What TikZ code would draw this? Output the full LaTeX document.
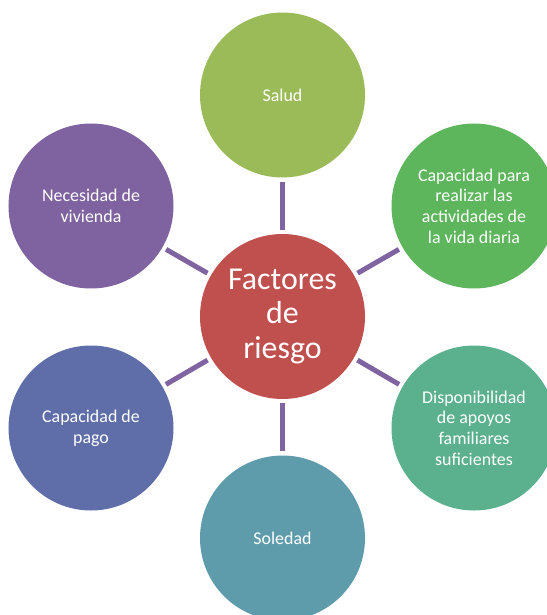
\documentclass[tikz,border=0pt]{standalone}
\usepackage{fontspec}
\setmainfont{Carlito}
\usetikzlibrary{positioning}
\definecolor{brick}{HTML}{C0504D}
\definecolor{pear}{HTML}{9BBB59}
\definecolor{leaf}{HTML}{5DB55C}
\definecolor{jade}{HTML}{5BB08E}
\definecolor{steel}{HTML}{5E9CAC}
\definecolor{indigo}{HTML}{5F6EA8}
\definecolor{plum}{HTML}{7F63A1}
\definecolor{spoke}{HTML}{8064A2}
\tikzset{
  factor/.style={circle,minimum size=165bp,inner sep=0pt,text=white,
                 align=center,font=\fontsize{18}{20.7}\selectfont},
  core/.style={circle,minimum size=165bp,inner sep=0pt,text=white,fill=brick,
               align=center,font=\fontsize{32}{34.5}\selectfont},
  link/.style={draw=spoke,line width=5bp,shorten >=4bp,shorten <=4bp}
}
\begin{document}
\begin{tikzpicture}[x=1bp,y=-1bp]
\useasboundingbox (0,0) rectangle (547,615);
\node[core] (risk) at (282.5,316.5) {Factores\\de\\riesgo};
\node[factor,fill=pear] (salud) at (282.5,95) {Salud};
\node[factor,fill=leaf] (diaria) at (474,206) {Capacidad para\\realizar las\\actividades de\\la vida diaria};
\node[factor,fill=jade] (apoyos) at (474,428) {Disponibilidad\\de apoyos\\familiares\\suficientes};
\node[factor,fill=steel] (soledad) at (282.5,538) {Soledad};
\node[factor,fill=indigo] (pago) at (91,428) {Capacidad de\\pago};
\node[factor,fill=plum] (vivienda) at (91,206) {Necesidad de\\vivienda};
\draw[link] (risk)--(salud);
\draw[link] (risk)--(diaria);
\draw[link] (risk)--(apoyos);
\draw[link] (risk)--(soledad);
\draw[link] (risk)--(pago);
\draw[link] (risk)--(vivienda);
\end{tikzpicture}
\end{document}
